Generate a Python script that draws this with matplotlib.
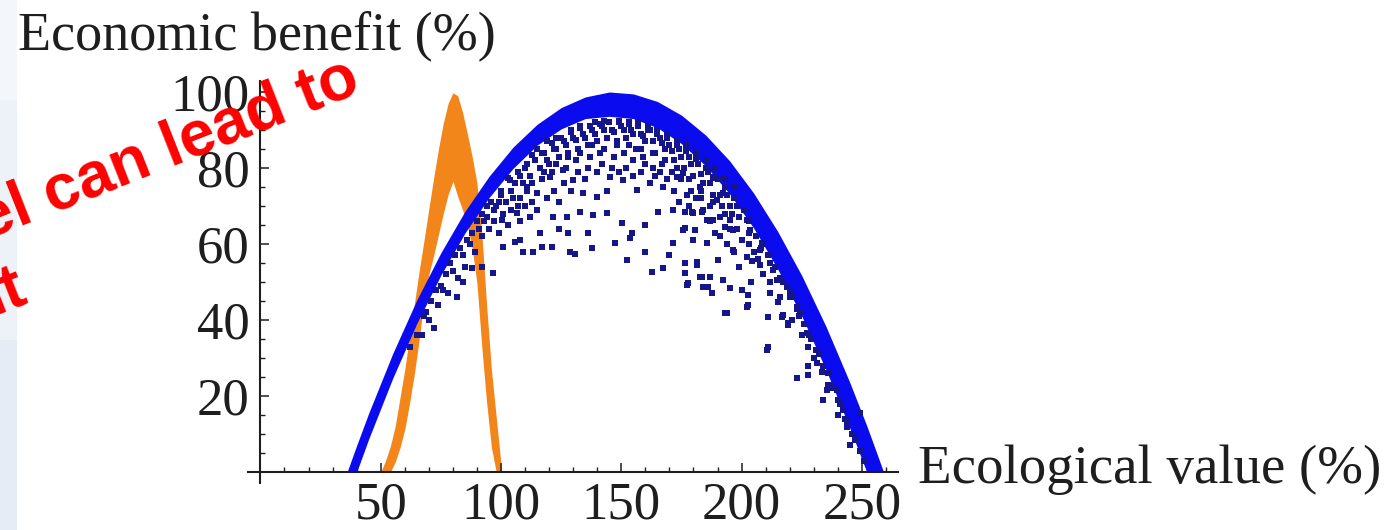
import matplotlib
matplotlib.use("Agg")
import matplotlib.pyplot as plt
from matplotlib.patches import Rectangle

# ---------------- data ----------------
# blue band: upper (outer) edge and lower (inner) edge of the dense band
blue_x = [36, 40, 45, 55, 65, 75, 85, 95, 105, 115, 125, 135, 145, 155, 165, 175,
          185, 195, 205, 215, 225, 235, 245, 252, 255, 259]
blue_top = [0, 7.0, 15.5, 31.2, 45.3, 57.7, 68.6, 77.8, 85.5, 91.5, 95.9, 98.7, 100,
            99.5, 97.5, 93.9, 88.7, 81.9, 73.4, 63.3, 51.7, 38.4, 23.5, 12.2, 7.0, 0]
blue_bottom = [0, 0, 8.7, 24.7, 39.1, 51.8, 62.9, 72.2, 79.9, 86.0, 90.3, 93.0, 93.6,
               93.0, 90.6, 86.4, 80.6, 73.2, 64.2, 53.4, 41.0, 27.0, 11.5, 0, 0, 0]

# orange band: outer edge and inner (hollow) edge
orange_x = [50, 52, 54, 56, 58, 60, 62, 64, 66, 68, 70, 72, 74, 76, 78, 80, 82, 84,
            86, 88, 90, 92, 94, 96, 98, 100]
orange_top = [0, 3, 6.8, 12, 19.5, 27, 35.7, 44.3, 53, 61, 69.3, 77.4, 85, 91.8, 97,
              99.8, 99, 94.7, 89, 83, 76, 63, 44, 27, 14.5, 2]
orange_bottom = [0, 0, 0, 2.6, 6.4, 11.2, 18.2, 25.9, 35, 45, 52, 57, 62.5, 68, 73,
                 76.5, 72.5, 69, 65, 58.9, 49.6, 33, 18.4, 6.5, 0, 0]

# scattered blue points inside the band
dots_x = [
    87.8, 92, 96.7, 84.3, 81.6, 100.8, 105.8, 109.2, 113.3, 116.9, 121, 128.7, 130.8,
    137.7, 152.2, 147.4, 153.6, 162.6, 167.5, 171.6, 176.5, 181.3, 185.5, 190.3, 177.8,
    182.7, 186.2, 193.1,
    94, 100.3, 106.5, 112, 116.2, 121.7, 127.3, 128, 132.8, 138.4, 143.9, 150.2, 154.3,
    159.9, 165.4, 171.6, 175.8, 179.9, 185.5, 189.6, 193.1,
    103.7, 110.7, 114.8, 120.4, 125.9, 130.1, 134.2, 139.8, 145.3, 150.8, 156.4, 161.9,
    167.5, 173, 177.2, 182.7, 188.3, 192.4,
    98, 100, 102, 104, 106, 108, 105, 110, 112, 114, 116, 118, 120, 122, 124, 126, 128,
    130, 132, 134, 136, 138, 140, 142, 144, 146, 148, 150, 152, 154, 156, 158, 160, 162,
    164, 166, 168, 170, 172, 174, 176, 178, 180, 182, 184, 186, 188, 190, 192, 194, 196,
    198,
    101, 107, 111, 117, 121, 127, 131, 137, 141, 147, 151, 155, 159, 163, 167, 171, 175,
    179, 183, 187, 191, 195,
    115, 119, 123, 129, 133, 139, 143, 149, 153, 157, 161, 165, 169, 173, 177, 181, 185,
    189, 193, 197,
    175.8, 176.5, 179.2, 183.4, 188.3, 176.5, 180.6, 180, 185.5, 189, 195.2, 196.6, 200,
    196.6, 202.1, 204.2, 207.7, 190.3, 181.3, 176.5, 183.4, 186.9, 177.2, 184.1, 187.6,
    192.4, 195.2, 202.8, 202.8, 193.8, 211.1, 215.3, 216.7, 219.4, 214.6, 218.7, 207.7,
    203.5, 208.3, 202.1, 213.2, 222.9, 221.5,
    202.1, 217.3, 219.4, 211.1, 210.4, 227.7, 231.2, 227.7, 222.9, 227.7, 233.3, 235.4,
    239.5, 234, 243.7, 247.1, 249.2, 242.3, 224.3, 227,
    203, 208, 212, 216, 220, 224, 228, 231, 234, 237, 240, 243, 246,
    68, 71, 73, 75, 77, 79, 81, 83, 86, 88, 90, 92, 94, 96, 70, 74, 78, 82, 85, 89, 92,
    95, 72, 67,
    100, 103, 107, 109, 111, 113, 117, 119, 121, 123, 125, 127, 129, 131, 133, 135, 137,
    139, 141, 143, 145, 147, 149, 151, 153, 155, 157, 159, 161, 163, 165, 167, 169, 171,
    173, 175, 177, 179, 181, 183, 185, 187, 189, 191, 193, 195, 197, 199, 201, 203, 206,
    209, 211, 214, 217, 220, 223, 226, 229, 232, 236, 238, 241, 244, 247, 249, 251,
    108, 113, 118, 123, 128, 133, 138, 143, 148, 153, 158, 163, 168, 173, 178, 183, 188,
    193, 198, 203, 207, 212, 216, 221, 225, 230, 236, 240, 245,
    62, 65, 69, 76, 80, 84, 87, 91, 93, 97, 99,
    97, 99, 103, 104, 108, 110, 113, 115, 119, 122, 124, 126, 129, 132, 135, 136, 140,
    142, 144, 146, 149, 152, 155, 158, 160, 164, 166, 169, 172, 174, 178, 181, 184, 187,
    191, 194, 197, 199, 205, 209, 212, 108, 124, 136, 160, 170, 204, 200,
]
dots_y = [
    53.6, 54, 52.4, 50, 46.1, 59.3, 60.6, 58, 58, 59.3, 59.3, 58, 57.5,
    58.9, 55.8, 60.2, 61.5, 52.7, 53.6, 60.2, 54.9, 55.3, 60.2, 55.8, 49.7,
    51.4, 48.8, 41.8,
    67.2, 66.3, 68.1, 67.2, 62.8, 67.2, 67.2, 62.8, 68.5, 67.6, 68.1, 65.4, 62.8,
    65, 68.5, 68.9, 63.7, 68.1, 66.3, 71.6, 64.6,
    76.8, 75.1, 73.3, 77.7, 79.5, 76.8, 73.3, 72.4, 77.7, 76.8, 74.2, 76,
    75.1, 77.7, 72.9, 75.1, 77.7, 73.3,
    70, 73, 71, 74, 76, 78, 72, 80, 78, 82, 80, 84, 81, 85, 83, 87, 84,
    88, 85, 89, 86, 90, 87, 91, 88, 90, 86, 91, 88, 90, 85, 89, 87, 90,
    84, 88, 85, 86, 82, 85, 80, 83, 78, 81, 76, 79, 73, 77, 70, 73, 68,
    70,
    68, 70, 74, 77, 79, 80, 82, 83, 84, 83, 84, 82, 83, 80, 81, 79, 77,
    74, 72, 70, 67, 64,
    85, 87, 88, 90, 91, 92, 92.5, 92.5, 92, 92, 91, 90, 89, 87, 86, 84, 82,
    80, 77, 75,
    78.6, 68.5, 68.5, 68.5, 66.3, 64.1, 63.7, 61, 60.2, 62.8, 66.3, 63.7, 61,
    58.4, 56.7, 55.4, 54.5, 55.8, 54.5, 52.3, 51.4, 51.4, 49.2, 48.8, 47,
    50.5, 48.3, 46.6, 44, 41.8, 40.9, 44.8, 40.9, 39.1, 50.5, 48.8, 58.4,
    63.7, 60.2, 66.3, 53.2, 43.5, 46.1,
    43.5, 41.4, 38.7, 33, 32.1, 33, 28.6, 27.8, 24.7, 25.6, 26.4, 21.6,
    21.6, 19, 11.9, 8.5, 15.5, 16.4, 41.8, 36.5,
    63, 59, 55, 51, 46, 41, 36, 32, 28, 23, 19, 14, 10,
    41, 45, 48, 49, 52, 55, 57, 59, 61, 63, 66, 68, 70, 71, 40, 44, 47, 51, 54, 58, 62,
    64, 38, 36,
    74, 77.5, 79, 76, 81, 83.5, 84, 82, 86.5, 85, 88, 86, 89.5, 87.5, 90.5, 88, 91,
    89, 91.5, 90, 92, 89.5, 92, 90, 91.5, 89, 91, 88.5, 90, 87, 89, 86.5, 88, 84.5,
    86, 83, 84.5, 81, 82.5, 78.5, 80, 76, 77.5, 73, 75, 70, 72, 67, 69, 66, 62,
    60, 57, 54, 50, 47, 43, 39, 35, 31, 26, 22, 18, 13.5, 9, 5.5, 3,
    72, 76, 79, 81, 83, 84, 86, 85, 87, 86, 85, 84, 82, 80, 77, 74, 71,
    68, 64, 60, 56, 50, 46, 40, 36, 30, 23, 15, 7,
    33, 36, 42, 48, 53, 57, 60, 64, 66, 69, 71,
    66, 63, 65, 69, 66, 70, 71, 69, 72, 74, 71, 76, 74, 79, 77, 80, 79,
    81, 74, 80, 79, 80, 78, 79, 81, 78, 79, 77, 74, 71, 70, 72, 69, 66,
    62, 60, 58, 54, 58, 52, 47, 61, 64, 63, 58, 57, 50, 48,
]

x_major = [50, 100, 150, 200, 250]
x_minor = [10, 20, 30, 40, 60, 70, 80, 90, 110, 120, 130, 140, 160, 170, 180, 190,
           210, 220, 230, 240, 260]
y_major = [20, 40, 60, 80, 100]
y_minor = [5, 10, 15, 25, 30, 35, 45, 50, 55, 65, 70, 75, 85, 90, 95]

x_label = "Ecological value (%)"
y_label = "Economic benefit (%)"

BLUE = "#0b0bf0"
DOT = "#15158c"
ORANGE = "#f3861b"
SERIF = "Liberation Serif"
TXT = "#1e1e1e"

# ---------------- figure ----------------
W, H = 1392, 530
fig = plt.figure(figsize=(W / 100, H / 100), dpi=100)
fig.patch.set_facecolor("white")

# light slide strip at the left edge
fig.patches.append(Rectangle((0, 0), 17 / W, 1 - 340 / H, transform=fig.transFigure,
                             facecolor="#e5ecf5", edgecolor="none", zorder=0))
fig.patches.append(Rectangle((0, 1 - 340 / H), 17 / W, 240 / H, transform=fig.transFigure,
                             facecolor="#edf2f8", edgecolor="none", zorder=0))
fig.patches.append(Rectangle((0, 1 - 100 / H), 17 / W, 100 / H, transform=fig.transFigure,
                             facecolor="#f3f6fa", edgecolor="none", zorder=0))


def px(x, y):
    return x / W, 1 - y / H


x0, x1, y0, y1 = 248.4, 898.0, 80.6, 483.4
ax = fig.add_axes([x0 / W, 1 - y1 / H, (x1 - x0) / W, (y1 - y0) / H])
ax.set_facecolor("none")
ax.set_xlim(-5, 265)
ax.set_ylim(-3, 103)

ax.fill_between(orange_x, orange_bottom, orange_top, color=ORANGE, lw=0, zorder=1)
ax.fill_between(blue_x, blue_bottom, blue_top, color=BLUE, lw=0, zorder=2)
ax.scatter(dots_x, dots_y, marker="s", s=17, color=DOT, lw=0, zorder=3)

for s in ("top", "right"):
    ax.spines[s].set_visible(False)
for s in ("left", "bottom"):
    ax.spines[s].set_position(("data", 0))
    ax.spines[s].set_linewidth(1.5)
    ax.spines[s].set_color(TXT)
    ax.spines[s].set_zorder(4)

ax.set_xticks(x_major)
ax.set_xticks(x_minor, minor=True)
ax.set_yticks(y_major)
ax.set_yticks(y_minor, minor=True)
ax.set_xticklabels([str(v) for v in x_major])
ax.set_yticklabels([str(v) for v in y_major])
ax.tick_params(axis="both", which="major", direction="in", length=6.5, width=1.1,
               labelsize=38, colors=TXT)
ax.tick_params(axis="both", which="minor", direction="in", length=3.6, width=1.0,
               colors=TXT)
ax.tick_params(axis="y", which="major", pad=8.0)
ax.tick_params(axis="x", which="major", pad=6.5)
for lab in ax.get_xticklabels() + ax.get_yticklabels():
    lab.set_fontfamily(SERIF)

fig.text(*px(18, 49), y_label, fontsize=39, family=SERIF, color=TXT,
         ha="left", va="baseline")
fig.text(*px(918, 483), x_label, fontsize=39.5, family=SERIF, color=TXT,
         ha="left", va="baseline")

# red overlay text from the slide (partly cut off at the left edge)
fig.text(*px(-14, 240), "el can lead to", fontsize=46, family="Liberation Sans",
         weight="bold", color="#ff0000", rotation=21.5, rotation_mode="anchor",
         ha="left", va="baseline", zorder=10)
fig.text(*px(-7, 315), "it", fontsize=46, family="Liberation Sans",
         weight="bold", color="#ff0000", rotation=21.5, rotation_mode="anchor",
         ha="left", va="baseline", zorder=10)

fig.savefig("out.png", dpi=100)
